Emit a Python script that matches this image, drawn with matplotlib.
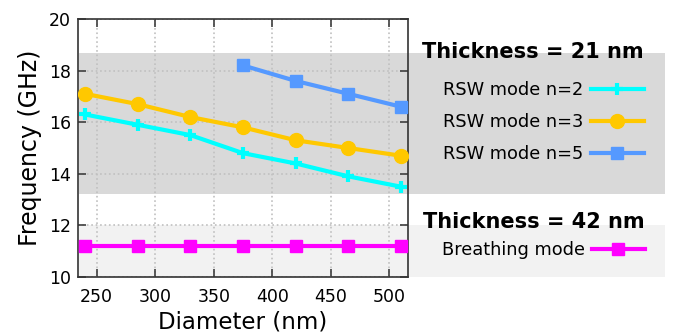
import numpy as np
import matplotlib.pyplot as plt
from matplotlib.transforms import blended_transform_factory
from matplotlib.patches import Rectangle

# Data
diameter = [240, 285, 330, 375, 420, 465, 510]
rsw_n2 = [16.3, 15.9, 15.5, 14.8, 14.4, 13.9, 13.5]
rsw_n3 = [17.1, 16.7, 16.2, 15.8, 15.3, 15.0, 14.7]
diameter_n5 = [375, 420, 465, 510]
rsw_n5 = [18.2, 17.6, 17.1, 16.6]
breathing = [11.2, 11.2, 11.2, 11.2, 11.2, 11.2, 11.2]

band_21 = (13.2, 18.7)
band_42 = (10.0, 12.0)

plt.rcParams['font.family'] = ['DejaVu Sans']
fig = plt.figure(figsize=(6.78, 3.34), dpi=100)
ax = fig.add_axes([78/678, 1 - 277/334, 330/678, 258/334])

# shaded bands reach out under the legend
trans = blended_transform_factory(ax.transAxes, ax.transData)
for (lo, hi), col in [(band_21, '#d9d9d9'), (band_42, '#f2f2f2')]:
    ax.add_patch(Rectangle((0.003, lo), 1.775, hi - lo, transform=trans,
                           facecolor=col, edgecolor='none', zorder=0.5,
                           clip_on=False))

lw = 3
h2, = ax.plot(diameter, rsw_n2, color='#00ffff', lw=lw, marker='+', ms=9, mew=3, zorder=3)
h3, = ax.plot(diameter, rsw_n3, color='#ffc800', lw=lw, marker='o', ms=10, zorder=3)
h5, = ax.plot(diameter_n5, rsw_n5, color='#5599ff', lw=lw, marker='s', ms=8, zorder=3)
hb, = ax.plot(diameter, breathing, color='#ff00ff', lw=lw, marker='s', ms=8, zorder=3)

ax.set_xlim(234, 516)
ax.set_ylim(10, 20)
ax.set_xticks([250, 300, 350, 400, 450, 500])
ax.set_yticks([10, 12, 14, 16, 18, 20])
ax.grid(True, linestyle=':', color='#c0c0c0', lw=1.2)
ax.tick_params(direction='in', length=6, width=1.2, color='#404040',
               labelsize=12.5, top=True, right=True, pad=5)
ax.tick_params(axis='x', pad=8)
for s in ax.spines.values():
    s.set_color('#333333')
    s.set_linewidth(1.2)
ax.set_xlabel('Diameter (nm)', fontsize=16.5, labelpad=3)
ax.set_ylabel('Frequency (GHz)', fontsize=17, labelpad=5)

leg1 = fig.legend([h2, h3, h5], ['RSW mode n=2', 'RSW mode n=3', 'RSW mode n=5'],
                  loc='upper right', bbox_to_anchor=(660/678, 1 - 26/334),
                  markerfirst=False, frameon=False, fontsize=12.8,
                  title='Thickness = 21 nm', handlelength=3.0, handletextpad=0.4,
                  labelspacing=0.77,
                  title_fontproperties={'weight': 'bold', 'size': 15})
leg1._legend_box.align = 'right'
leg1._legend_box.sep = 14
leg2 = fig.legend([hb], ['Breathing mode'],
                  loc='upper right', bbox_to_anchor=(661/678, 1 - 196/334),
                  markerfirst=False, frameon=False, fontsize=12.8,
                  title='Thickness = 42 nm', handlelength=3.0, handletextpad=0.4,
                  title_fontproperties={'weight': 'bold', 'size': 15})
leg2._legend_box.align = 'right'

fig.savefig('out.png', dpi=100)
